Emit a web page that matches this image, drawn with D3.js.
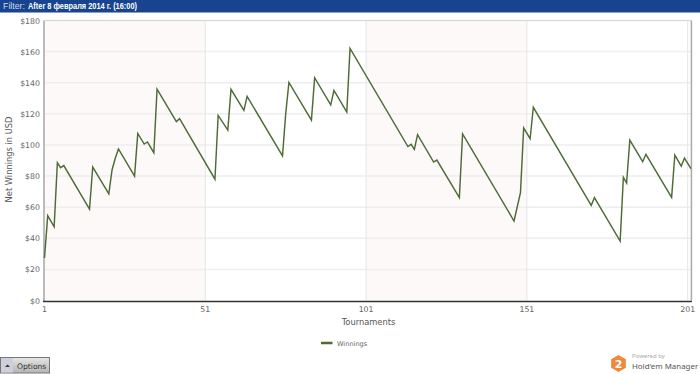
<!DOCTYPE html>
<html>
<head>
<meta charset="utf-8">
<script src="https://cdn.jsdelivr.net/npm/d3@7"></script>
<style>
  html, body { margin: 0; padding: 0; background: #fff; }
  svg { display: block; font-family: "DejaVu Sans", sans-serif; }
  .tick-label { font-size: 7.8px; fill: #666; }
  .axis-label { font-size: 8.3px; fill: #555; }
</style>
</head>
<body>
<svg width="700" height="374"></svg>
<script>
    const tournaments = [1, 2, 4, 5, 6, 7, 15, 16, 21, 22, 23, 24, 29, 30, 32, 33, 35, 36, 42, 43, 54, 55, 58, 59, 63, 64, 75, 76, 77, 84, 85, 90, 91, 95, 96, 114, 115, 116, 117, 122, 123, 130, 131, 147, 149, 150, 152, 153, 171, 172, 180, 181, 182, 183, 187, 188, 196, 197, 199, 200, 202];
    const winnings = [27.3, 54.5, 47.4, 88.6, 85.4, 86.7, 58.8, 85.8, 68.6, 83.9, 91.4, 97.4, 80, 107.4, 100.6, 101.9, 95, 135.9, 115, 116.9, 78, 119, 109.5, 135.8, 122.2, 131.2, 92.9, 120, 140.2, 116, 143.2, 125.8, 135, 121.1, 162, 99, 100.4, 97.2, 106.6, 89, 90.3, 66.1, 107.1, 51.1, 69.3, 111, 104, 124.2, 61.2, 66.1, 38.2, 79.2, 75.5, 103.1, 89.2, 94, 66.3, 93.5, 86.4, 91.6, 84.7];

    const xTicks = [1, 51, 101, 151, 201];
    const yTicks = [0, 20, 40, 60, 80, 100, 120, 140, 160, 180];
    const tintedBands = [[1, 51], [101, 151]];

    const svg = d3.select("svg");

    const x = d3.scaleLinear().domain([1, 201]).range([44.5, 687.7]);
    const y = d3.scaleLinear().domain([0, 180]).range([300.5, 20.5]);
    const xEnd = x(202);

    // header strip
    svg.append("rect")
      .attr("width", 700).attr("height", 12.5)
      .attr("fill", "#17438f");

    svg.append("text")
      .attr("x", 3).attr("y", 9)
      .attr("font-family", "Liberation Sans")
      .attr("font-size", "8.2px")
      .attr("fill", "#cfdaee")
      .attr("textLength", 22)
      .attr("lengthAdjust", "spacingAndGlyphs")
      .text("Filter:");

    svg.append("text")
      .attr("x", 28).attr("y", 9)
      .attr("font-family", "Liberation Sans")
      .attr("font-size", "8.2px")
      .attr("font-weight", "bold")
      .attr("fill", "#fff")
      .attr("textLength", 109)
      .attr("lengthAdjust", "spacingAndGlyphs")
      .text("After 8 февраля 2014 г. (16:00)");

    // alternating background
    svg.selectAll(".band")
      .data(tintedBands)
      .enter()
      .append("rect")
      .attr("class", "band")
      .attr("x", d => x(d[0]))
      .attr("y", y(180))
      .attr("width", d => x(d[1]) - x(d[0]))
      .attr("height", y(0) - y(180))
      .attr("fill", "#fdf9f9");

    svg.selectAll(".grid-y")
      .data(yTicks.filter(d => d > 0))
      .enter()
      .append("line")
      .attr("class", "grid-y")
      .attr("x1", x(1)).attr("x2", xEnd)
      .attr("y1", d => y(d)).attr("y2", d => y(d))
      .attr("stroke", "#eeeeee")
      .attr("stroke-width", 1.5);

    svg.selectAll(".grid-x")
      .data(xTicks.slice(1))
      .enter()
      .append("line")
      .attr("class", "grid-x")
      .attr("x1", d => x(d)).attr("x2", d => x(d))
      .attr("y1", y(180)).attr("y2", y(0))
      .attr("stroke", "#e6e6e6")
      .attr("stroke-width", 1);

    // frame
    svg.append("line")
      .attr("x1", x(1)).attr("x2", xEnd)
      .attr("y1", y(180)).attr("y2", y(180))
      .attr("stroke", "#d8d8d8");
    svg.append("line")
      .attr("x1", xEnd + 0.5).attr("x2", xEnd + 0.5)
      .attr("y1", y(180)).attr("y2", y(0))
      .attr("stroke", "#aaa")
      .attr("stroke-width", 1.5);
    svg.append("line")
      .attr("x1", 44).attr("x2", 44)
      .attr("y1", y(180)).attr("y2", y(0) + 1)
      .attr("stroke", "#bbb")
      .attr("stroke-width", 2);
    svg.append("line")
      .attr("x1", 43).attr("x2", xEnd + 1)
      .attr("y1", y(0) + 1).attr("y2", y(0) + 1)
      .attr("stroke", "#333")
      .attr("stroke-width", 1.5);

    const line = d3.line()
      .x((d, i) => x(tournaments[i]))
      .y(d => y(d));

    svg.append("path")
      .attr("d", line(winnings))
      .attr("fill", "none")
      .attr("stroke", "#4c6b35")
      .attr("stroke-width", 1.45);

    svg.selectAll(".y-label")
      .data(yTicks)
      .enter()
      .append("text")
      .attr("class", "tick-label")
      .attr("x", 40)
      .attr("y", d => y(d) + 3)
      .attr("text-anchor", "end")
      .text(d => "$" + d);

    svg.selectAll(".x-label")
      .data(xTicks)
      .enter()
      .append("text")
      .attr("class", "tick-label")
      .attr("x", d => x(d))
      .attr("y", 311.5)
      .attr("text-anchor", "middle")
      .text(d => d);

    svg.append("text")
      .attr("class", "axis-label")
      .attr("x", 368.5).attr("y", 325)
      .attr("text-anchor", "middle")
      .text("Tournaments");

    svg.append("text")
      .attr("class", "axis-label")
      .attr("transform", "rotate(-90)")
      .attr("x", -159.5).attr("y", 12)
      .attr("text-anchor", "middle")
      .text("Net Winnings in USD");

    // legend
    svg.append("line")
      .attr("x1", 321).attr("x2", 332.5)
      .attr("y1", 343).attr("y2", 343)
      .attr("stroke", "#4c6b35")
      .attr("stroke-width", 2.5);
    svg.append("text")
      .attr("x", 337).attr("y", 346)
      .attr("font-size", "6.6px")
      .attr("fill", "#666")
      .text("Winnings");

    // options button
    const grad = svg.append("defs").append("linearGradient")
      .attr("id", "btn").attr("x1", 0).attr("x2", 0).attr("y1", 0).attr("y2", 1);
    grad.append("stop").attr("offset", "0%").attr("stop-color", "#e6e6e6");
    grad.append("stop").attr("offset", "100%").attr("stop-color", "#b4b4b4");

    svg.append("rect")
      .attr("x", 0.5).attr("y", 357.5)
      .attr("width", 49).attr("height", 15.5)
      .attr("fill", "url(#btn)")
      .attr("stroke", "#777");
    svg.append("rect")
      .attr("x", 1).attr("y", 358)
      .attr("width", 12).attr("height", 14.5)
      .attr("fill", "#cfcfdc");
    svg.append("path")
      .attr("d", "M5 367 L7.5 364.5 L10 367 Z")
      .attr("fill", "#333");
    svg.append("text")
      .attr("x", 17).attr("y", 369)
      .attr("font-size", "7.6px")
      .attr("fill", "#333")
      .text("Options");

    // logo
    const hex = d3.range(6).map(i => {
      const a = Math.PI / 3 * i + Math.PI / 6;
      return [618.5 + 8.5 * Math.cos(a), 363.5 + 8.5 * Math.sin(a)];
    });
    svg.append("polygon")
      .attr("points", hex.join(" "))
      .attr("fill", "#ee8a3c");
    svg.append("text")
      .attr("x", 618.5).attr("y", 367.5)
      .attr("text-anchor", "middle")
      .attr("font-size", "11px")
      .attr("font-weight", "bold")
      .attr("fill", "#fff")
      .text("2");
    svg.append("text")
      .attr("x", 632).attr("y", 358)
      .attr("font-family", "Noto Sans")
      .attr("font-size", "6px")
      .attr("fill", "#aaa")
      .text("Powered by");
    svg.append("text")
      .attr("x", 632).attr("y", 368.5)
      .attr("font-family", "Noto Sans")
      .attr("font-size", "7.9px")
      .attr("fill", "#555")
      .text("Hold'em Manager");
</script>
</body>
</html>
